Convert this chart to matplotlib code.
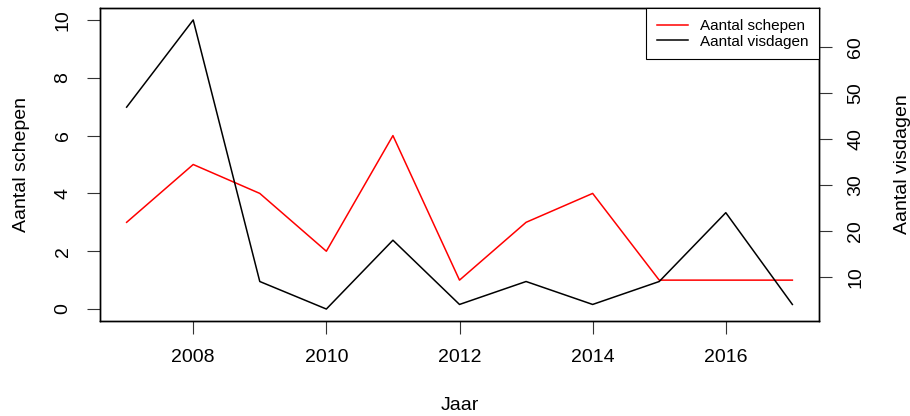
import matplotlib
matplotlib.use('Agg')
import matplotlib.pyplot as plt

years = [2007, 2008, 2009, 2010, 2011, 2012, 2013, 2014, 2015, 2016, 2017]
schepen = [3, 5, 4, 2, 6, 1, 3, 4, 1, 1, 1]
visdagen = [47, 66, 9, 3, 18, 4, 9, 4, 9, 24, 4]

xticks = [2008, 2010, 2012, 2014, 2016]
left_ticks = [0, 2, 4, 6, 8, 10]
right_ticks = [10, 20, 30, 40, 50, 60]
left_range = (0, 10)

plt.rcParams['font.family'] = ['Liberation Sans', 'DejaVu Sans']

fig = plt.figure(figsize=(9.1, 4.16), dpi=100)
ax = fig.add_axes([100 / 910, 1 - 320.6 / 416, 719 / 910, 312.2 / 416])
ax2 = ax.twinx()

l1, = ax.plot(years, schepen, color='red', lw=1.1, label='Aantal schepen')
l2, = ax2.plot(years, visdagen, color='black', lw=1.1, label='Aantal visdagen')

# R style 4% padding
ax.margins(x=0.04)
ax2.margins(x=0.04, y=0.04)
pad = 0.04 * (left_range[1] - left_range[0])
ax.set_ylim(left_range[0] - pad, left_range[1] + pad)

ax.set_xticks(xticks)
ax.set_yticks(left_ticks)
ax2.set_yticks(right_ticks)

for a in (ax, ax2):
    for s in a.spines.values():
        s.set_color('black')
        s.set_linewidth(1.0)
    a.tick_params(length=9.5, width=0.8, color='#333333', labelsize=14)

ax.tick_params(axis='x', pad=11)
ax.tick_params(axis='y', pad=11)
ax2.tick_params(axis='y', pad=11)
for t in ax.get_yticklabels():
    t.set_rotation(90)
    t.set_va('center')
for t in ax2.get_yticklabels():
    t.set_rotation(90)
    t.set_va('center')

ax.set_xlabel('Jaar', fontsize=14, labelpad=22)
ax.set_ylabel('Aantal schepen', fontsize=14, labelpad=18)
ax2.set_ylabel('Aantal visdagen', fontsize=14, labelpad=21)

leg = ax2.legend(handles=[l1, l2], loc='upper right', borderaxespad=0,
                 fancybox=False, edgecolor='black', framealpha=1,
                 fontsize=11, handlelength=2.0, labelspacing=0.1,
                 borderpad=0.7)
leg.get_frame().set_linewidth(0.8)

fig.savefig('out.png', dpi=100)
